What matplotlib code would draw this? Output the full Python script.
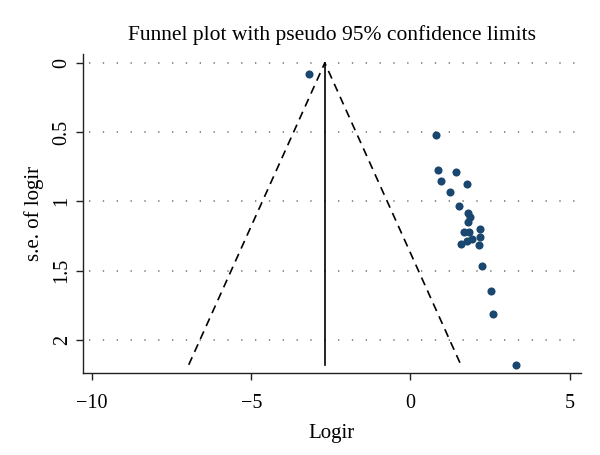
import matplotlib
matplotlib.use("Agg")
import matplotlib.pyplot as plt
import numpy as np

logir = [-3.19, 0.80, 0.86, 1.43, 0.96, 1.77, 1.24, 1.51, 1.82, 1.88, 1.80,
         2.17, 1.69, 1.83, 2.19, 1.79, 1.93, 1.58, 2.14, 2.26, 2.53, 2.59, 3.31]
se_logir = [0.077, 0.52, 0.77, 0.79, 0.85, 0.874, 0.93, 1.03, 1.083, 1.11, 1.148,
            1.198, 1.222, 1.222, 1.256, 1.285, 1.275, 1.309, 1.318, 1.466, 1.648, 1.814, 2.18]
pooled = -2.69
se_max = 2.18
xticks = [-10, -5, 0, 5]
yticks = [0, 0.5, 1, 1.5, 2]
ytick_labels = ["0", "0.5", "1", "1.5", "2"]

plt.rcParams['font.family'] = ['Liberation Serif', 'DejaVu Serif']

fig = plt.figure(figsize=(6, 4.55), dpi=100)
ax = fig.add_axes([0.138, 0.180, 0.830, 0.701])

for y in yticks:
    ax.plot([-10.1, 5.2], [y, y], linestyle=(0, (0.8, 7.5)), color='#7a7a7a',
            linewidth=1.2, zorder=1)

ax.plot([pooled, pooled], [0, se_max], color='black', linewidth=1.2, zorder=2)
ax.plot([pooled - 1.96 * se_max, pooled, pooled + 1.96 * se_max], [se_max, 0, se_max],
        color='black', linewidth=1.2, linestyle=(0, (5, 3.5)), zorder=2)

ax.scatter(logir, se_logir, s=34, color='#1a476f', zorder=3, linewidths=0)

ax.set_xlim(-10.29, 5.35)
ax.set_ylim(2.24, -0.063)
ax.set_xticks(xticks)
ax.set_xticklabels(["\u221210", "\u22125", "0", "5"])
ax.set_yticks(yticks)
ax.set_yticklabels(ytick_labels, rotation=90, va='center')

for s in ['top', 'right']:
    ax.spines[s].set_visible(False)
for s in ['left', 'bottom']:
    ax.spines[s].set_color('#222222')
    ax.spines[s].set_linewidth(1.0)
ax.tick_params(axis='both', length=5, width=1.0, color='#222222', labelsize=14.5)
ax.tick_params(axis='x', pad=10)
ax.tick_params(axis='y', pad=3)

ax.set_xlabel("Logir", fontsize=15, labelpad=8)
ax.set_ylabel("s.e. of logir", fontsize=15, labelpad=6)
ax.set_title("Funnel plot with pseudo 95% confidence limits", fontsize=15.5, pad=10)

fig.savefig("out.png", dpi=100)
